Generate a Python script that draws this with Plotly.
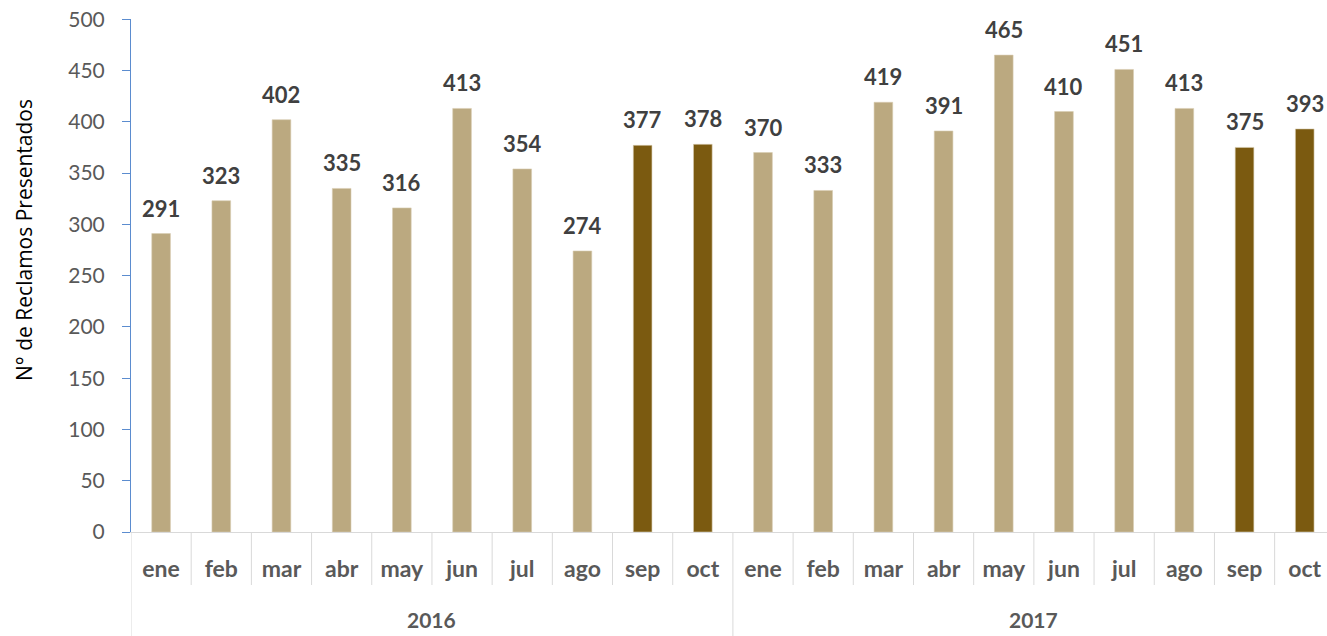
import plotly.graph_objects as go

years = ["2016"] * 10 + ["2017"] * 10
months = ["ene", "feb", "mar", "abr", "may", "jun", "jul", "ago", "sep", "oct",
          "ene", "feb", "mar", "abr", "may", "jun", "jul", "ago", "sep", "oct"]
values = [291, 323, 402, 335, 316, 413, 354, 274, 377, 378,
          370, 333, 419, 391, 465, 410, 451, 413, 375, 393]
highlight = [False] * 8 + [True, True] + [False] * 8 + [True, True]
year_labels = ["2016", "2017"]

LIGHT = "#BBA980"
DARK = "#7B5A10"
GRID = "#D9D9D9"
colors = [DARK if h else LIGHT for h in highlight]
cats = [f"{m} {y}" for m, y in zip(months, years)]
n = len(cats)

fig = go.Figure()
fig.add_trace(go.Bar(
    x=cats, y=values,
    marker=dict(color=colors, line=dict(color="#D8CDB2", width=0.6)),
    width=0.31,
    hoverinfo="skip",
))

# data labels
for c, v in zip(cats, values):
    fig.add_annotation(x=c, y=v, text=str(v), showarrow=False,
                       yanchor="bottom", yshift=10,
                       font=dict(family="Lato", size=22, color="#404040", weight="bold"))

# month boundaries (short) and year boundaries (long)
AX_H = 513.0
short = 53 / AX_H
long_ = 104 / AX_H
year_starts = [i for i in range(n) if i == 0 or years[i] != years[i - 1]]
for b in range(n + 1):
    is_year = b in year_starts or b == n
    fig.add_shape(type="line", xref="x", yref="paper",
                  x0=b - 0.5, x1=b - 0.5, y0=0, y1=-(long_ if is_year else short),
                  line=dict(color=GRID, width=1), layer="below")

# year labels
for yl in year_labels:
    idx = [i for i, y in enumerate(years) if y == yl]
    fig.add_annotation(x=(idx[0] + idx[-1]) / 2, xref="x", y=-87 / AX_H, yref="paper",
                       text=yl, showarrow=False, yanchor="middle",
                       font=dict(family="Lato", size=21, color="#595959", weight="bold"))

# y-axis title
fig.add_annotation(xref="paper", yref="paper", x=0, y=(532 - 240) / AX_H,
                   xshift=-107, text="N° de Reclamos Presentados", textangle=-90,
                   showarrow=False, xanchor="center", yanchor="middle",
                   font=dict(family="Open Sans", size=21, color="#000000"))

fig.update_layout(
    width=1327, height=636,
    margin=dict(l=131, r=0, t=19, b=104),
    plot_bgcolor="white", paper_bgcolor="white",
    showlegend=False,
)
fig.update_xaxes(
    type="category",
    range=[-0.5, 19.37],
    tickvals=cats, ticktext=months,
    showline=True, linecolor=GRID, linewidth=1,
    ticks="", ticklabelstandoff=16,
    tickfont=dict(family="Lato", size=23, color="#595959", weight="bold"),
    showgrid=False,
)
fig.update_yaxes(
    range=[0, 500.2], tickvals=list(range(0, 501, 50)),
    showline=True, linecolor="#5B8CCF", linewidth=1,
    ticks="outside", ticklen=8, tickcolor="#5B8CCF",
    tickfont=dict(family="Lato", size=21, color="#595959"),
    ticklabelstandoff=13,
    showgrid=False, zeroline=False,
)
fig.write_html("out.html",
               config={"displayModeBar": False},
               post_script="document.body.style.margin='0';document.body.style.overflow='hidden';")
